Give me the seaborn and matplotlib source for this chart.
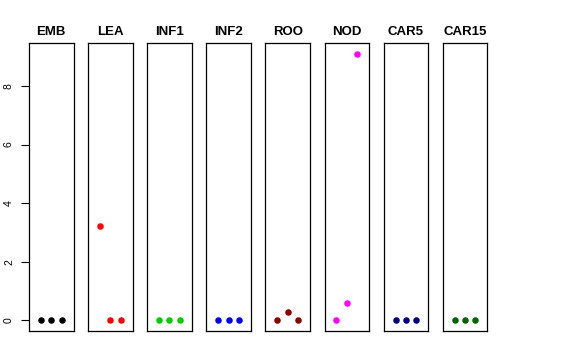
import pandas as pd
import numpy as np
import matplotlib
matplotlib.use("Agg")
import matplotlib.pyplot as plt
import seaborn as sns

# Datos
tejidos = ['EMB', 'LEA', 'INF1', 'INF2', 'ROO', 'NOD', 'CAR5', 'CAR15']
replicas = [1, 2, 3]
emb = [0, 0, 0]
lea = [3.23, 0, 0]
inf1 = [0, 0, 0]
inf2 = [0, 0, 0]
roo = [0, 0.28, 0]
nod = [0, 0.6, 9.1]
car5 = [0, 0, 0]
car15 = [0, 0, 0]
colores = ['black', 'red', '#00CD00', 'blue', '#8B0000', 'magenta', '#000080', '#006400']
yticks = [0, 2, 4, 6, 8]

valores = [emb, lea, inf1, inf2, roo, nod, car5, car15]
df = pd.DataFrame({
    'tejido': np.repeat(tejidos, len(replicas)),
    'replica': replicas * len(tejidos),
    'valor': np.concatenate(valores),
})

sns.set_style("white")
plt.rcParams['font.family'] = ['Liberation Sans', 'DejaVu Sans']
plt.rcParams['text.color'] = 'black'

fig = plt.figure(figsize=(5.76, 3.6), dpi=100)
W, H = 576, 360
ymax = df['valor'].max()
ypad = ymax * 0.04

for i, tej in enumerate(tejidos):
    left = 29 + 59.1 * i
    ax = fig.add_axes([left / W, (H - 331) / H, 44.5 / W, 288 / H])
    sub = df[df['tejido'] == tej]
    sns.scatterplot(data=sub, x='replica', y='valor', color=colores[i],
                    s=22, linewidth=0, ax=ax, legend=False)
    ax.set_xlim(-0.16, 4.16)
    ax.set_ylim(-ypad, ymax + ypad)
    ax.set_xlabel('')
    ax.set_ylabel('')
    ax.set_xticks([])
    for sp in ax.spines.values():
        sp.set_visible(True)
        sp.set_color('black')
        sp.set_linewidth(0.9)
    ax.set_title(tej, fontsize=9.5, fontweight='bold', pad=6, color='black')
    if i == 0:
        ax.set_yticks(yticks)
        ax.set_yticklabels([str(t) for t in yticks], rotation=90, va='center', fontsize=7.5)
        ax.tick_params(axis='y', left=True, length=5.8, width=0.8, pad=5, colors='black')
    else:
        ax.set_yticks([])

fig.savefig('out.png', dpi=100)
